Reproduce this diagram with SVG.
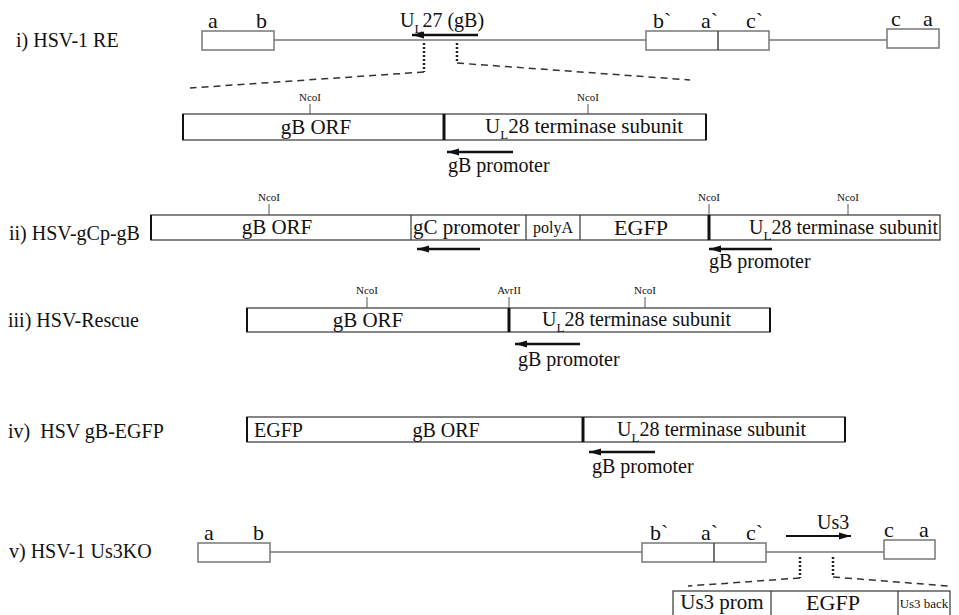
<svg xmlns="http://www.w3.org/2000/svg" width="959" height="615" viewBox="0 0 959 615">
<defs>
<style>
text{font-family:"Liberation Serif","Times New Roman",serif;fill:#111}
.lbl{font-size:20px}
.seg{font-size:22px}
.big{font-size:21px}
.small{font-size:11px}
.gbox{fill:#fff;stroke:#777;stroke-width:1.5}
.gline{stroke:#777;stroke-width:1.5;fill:none}
.box{fill:#fff;stroke:#444;stroke-width:1.3}
.thick{stroke:#111;stroke-width:3}
.tick{stroke:#555;stroke-width:1}
.arr{stroke:#111;stroke-width:2.5;fill:none;marker-end:url(#ah)}
.dot{stroke:#222;stroke-width:2.5;stroke-dasharray:2 2;fill:none}
.dash{stroke:#333;stroke-width:1.5;stroke-dasharray:7 5;fill:none}
</style>
<marker id="ah" markerUnits="userSpaceOnUse" markerWidth="14" markerHeight="10" refX="12" refY="4" orient="auto">
<polygon points="0,0.5 12,4 0,7.5" fill="#111"/>
</marker>
</defs>
<rect width="959" height="615" fill="#fff"/>

<!-- Row i -->
<g id="row-i">
<text class="lbl" x="16" y="47">i) HSV-1 RE</text>
<g id="i-ab"><rect class="gbox" x="202" y="31" width="72" height="19"/><text class="seg" x="208" y="28">a</text><text class="seg" x="256" y="28">b</text></g>
<g id="i-bac"><rect class="gbox" x="646" y="31" width="123" height="19"/><line class="gline" x1="718" y1="31" x2="718" y2="50" style="stroke:#444"/><text class="seg" x="653" y="28">b`</text><text class="seg" x="701" y="28">a`</text><text class="seg" x="746" y="28">c`</text></g>
<g id="i-ca"><rect class="gbox" x="887" y="29" width="52" height="19"/><text class="seg" x="891" y="26">c</text><text class="seg" x="923" y="26">a</text></g>
<g id="i-ul27"><text class="lbl" x="400" y="27">U<tspan font-size="13" dy="6">L</tspan><tspan dy="-6">27 (gB)</tspan></text></g>
</g>

<g id="row-i-detail">
<rect class="box" x="183" y="114" width="523" height="26"/>
<line class="thick" x1="183" y1="114" x2="183" y2="140" style="stroke-width:2"/>
<line class="thick" x1="444" y1="114" x2="444" y2="140"/>
<line class="thick" x1="706" y1="114" x2="706" y2="140" style="stroke-width:2"/>
<text class="small" x="310" y="101" text-anchor="middle">NcoI</text><line class="tick" x1="310" y1="104" x2="310" y2="114"/>
<text class="small" x="588" y="101" text-anchor="middle">NcoI</text><line class="tick" x1="588" y1="104" x2="588" y2="114"/>
<text class="big" x="316" y="134" text-anchor="middle">gB ORF</text>
<text class="big" x="485" y="133">U<tspan font-size="13" dy="6">L</tspan><tspan dy="-6">28 terminase subunit</tspan></text>
<text class="lbl" x="448" y="172">gB promoter</text>
</g>

<!-- Row ii -->
<g id="row-ii">
<text class="lbl" x="9" y="240">ii) HSV-gCp-gB</text>
<rect class="box" x="151" y="215" width="789" height="25"/>
<line class="thick" x1="151" y1="215" x2="151" y2="240" style="stroke-width:2"/>
<line class="box" x1="411" y1="215" x2="411" y2="240"/>
<line class="box" x1="526" y1="215" x2="526" y2="240"/>
<line class="box" x1="580" y1="215" x2="580" y2="240"/>
<line class="thick" x1="709" y1="215" x2="709" y2="240"/>
<text class="small" x="269" y="201" text-anchor="middle">NcoI</text><line class="tick" x1="269" y1="204" x2="269" y2="215"/>
<text class="small" x="709" y="201" text-anchor="middle">NcoI</text><line class="tick" x1="709" y1="204" x2="709" y2="215"/>
<text class="small" x="848" y="201" text-anchor="middle">NcoI</text><line class="tick" x1="848" y1="204" x2="848" y2="215"/>
<text class="big" x="277" y="234" text-anchor="middle">gB ORF</text>
<text class="big" x="413" y="234">gC promoter</text>
<text x="553" y="233" font-size="16" text-anchor="middle">polyA</text>
<text x="641" y="235" font-size="22" text-anchor="middle">EGFP</text>
<text class="lbl" x="749" y="234">U<tspan font-size="13" dy="6">L</tspan><tspan dy="-6">28 terminase subunit</tspan></text>
<text class="lbl" x="709" y="268">gB promoter</text>
</g>

<!-- Row iii -->
<g id="row-iii">
<text class="lbl" x="8" y="327">iii) HSV-Rescue</text>
<rect class="box" x="247" y="308" width="523" height="24"/>
<line class="thick" x1="247" y1="308" x2="247" y2="332" style="stroke-width:2"/>
<line class="thick" x1="509" y1="308" x2="509" y2="332"/>
<line class="thick" x1="770" y1="308" x2="770" y2="332" style="stroke-width:2"/>
<text class="small" x="367" y="294" text-anchor="middle">NcoI</text><line class="tick" x1="367" y1="297" x2="367" y2="308"/>
<text class="small" x="509" y="294" text-anchor="middle">AvrII</text><line class="tick" x1="509" y1="297" x2="509" y2="308"/>
<text class="small" x="645" y="294" text-anchor="middle">NcoI</text><line class="tick" x1="645" y1="297" x2="645" y2="308"/>
<text class="big" x="368" y="327" text-anchor="middle">gB ORF</text>
<text class="lbl" x="542" y="326">U<tspan font-size="13" dy="6">L</tspan><tspan dy="-6">28 terminase subunit</tspan></text>
<text class="lbl" x="518" y="366">gB promoter</text>
</g>

<!-- Row iv -->
<g id="row-iv">
<text class="lbl" x="8" y="438" xml:space="preserve">iv)  HSV gB-EGFP</text>
<rect class="box" x="247" y="417" width="598" height="25"/>
<line class="thick" x1="247" y1="417" x2="247" y2="442" style="stroke-width:2"/>
<line class="thick" x1="583" y1="417" x2="583" y2="442"/>
<line class="thick" x1="845" y1="417" x2="845" y2="442" style="stroke-width:2"/>
<text class="lbl" x="254" y="437">EGFP</text>
<text class="lbl" x="446" y="437" text-anchor="middle">gB ORF</text>
<text class="lbl" x="617" y="436">U<tspan font-size="13" dy="6">L</tspan><tspan dy="-6">28 terminase subunit</tspan></text>
<text class="lbl" x="592" y="473">gB promoter</text>
</g>

<!-- Row v -->
<g id="row-v">
<text class="lbl" x="9" y="558">v) HSV-1 Us3KO</text>
<g id="v-ab"><rect class="gbox" x="198" y="543" width="72" height="19"/><text class="seg" x="204" y="540">a</text><text class="seg" x="253" y="540">b</text></g>
<g id="v-bac"><rect class="gbox" x="642" y="543" width="124" height="19"/><line class="gline" x1="714" y1="543" x2="714" y2="562" style="stroke:#444"/><text class="seg" x="650" y="540">b`</text><text class="seg" x="701" y="540">a`</text><text class="seg" x="746" y="540">c`</text></g>
<g id="v-ca"><rect class="gbox" x="884" y="540" width="51" height="19"/><text class="seg" x="884" y="537">c</text><text class="seg" x="919" y="537">a</text></g>
<text class="lbl" x="817" y="529">Us3</text>
</g>
<g id="v-detail">
<rect class="box" x="673" y="591" width="277" height="30"/>
<line class="box" x1="771" y1="591" x2="771" y2="615"/>
<line class="box" x1="898" y1="591" x2="898" y2="615"/>
<text class="big" x="722" y="609" text-anchor="middle">Us3 prom</text>
<text x="833" y="610" font-size="22" text-anchor="middle">EGFP</text>
<text x="924" y="608" font-size="13" text-anchor="middle">Us3 back</text>
</g>

<!-- connectors -->
<g id="connectors">
<line class="gline" x1="274" y1="40" x2="646" y2="40"/>
<line class="gline" x1="769" y1="40" x2="887" y2="40"/>
<line class="arr" x1="478" y1="35" x2="412" y2="35"/>
<path class="dot" d="M424,43 V72"/>
<path class="dot" d="M457,43 V63"/>
<path class="dash" d="M424,72 L190,88"/>
<path class="dash" d="M457,63 L690,80"/>
<line class="arr" x1="513" y1="152" x2="447" y2="152"/>
<line class="arr" x1="480" y1="249" x2="417" y2="249"/>
<line class="arr" x1="772" y1="249" x2="709" y2="249"/>
<line class="arr" x1="580" y1="344" x2="515" y2="344"/>
<line class="arr" x1="655" y1="452" x2="589" y2="452"/>
<line class="gline" x1="270" y1="552" x2="642" y2="552"/>
<line class="gline" x1="766" y1="552" x2="884" y2="552"/>
<line class="arr" x1="786" y1="536" x2="851" y2="536" style="stroke-width:2"/>
<path class="dot" d="M800,557 V578"/>
<path class="dot" d="M833,557 V577"/>
<path class="dash" d="M800,578 L688,586"/>
<path class="dash" d="M833,577 L948,586"/>
</g>
</svg>
